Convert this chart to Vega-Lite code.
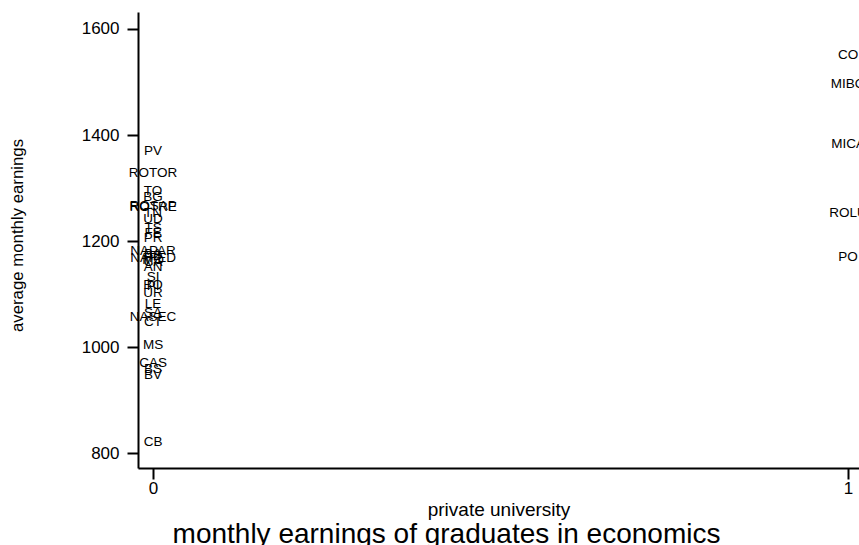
{
  "$schema": "https://vega.github.io/schema/vega-lite/v6.json",
  "autosize": "none",
  "padding": {"left": 138, "top": 12, "right": 0, "bottom": 77},
  "width": 721,
  "height": 456,
  "background": "white",
  "config": {
    "font": "Liberation Sans, Arial, sans-serif",
    "view": {"stroke": null},
    "axis": {"grid": false, "domainColor": "black", "domainWidth": 2, "tickColor": "black", "tickWidth": 2, "tickSize": 11, "labelColor": "black", "titleColor": "black", "labelFont": "Liberation Sans", "titleFont": "Liberation Sans", "titleFontWeight": "normal", "labelFontSize": 17, "titleFontSize": 17}
  },
  "title": {"text": "monthly earnings of graduates in economics", "orient": "bottom", "anchor": "middle", "frame": "group", "fontSize": 28, "fontWeight": "normal", "font": "Liberation Sans", "color": "black", "dx": -52, "offset": 2},
  "data": {"values": [
    {"univ": "PV", "private": 0, "earnings": 1370},
    {"univ": "ROTOR", "private": 0, "earnings": 1329},
    {"univ": "TO", "private": 0, "earnings": 1294},
    {"univ": "BG", "private": 0, "earnings": 1283},
    {"univ": "ROSAP", "private": 0, "earnings": 1266},
    {"univ": "ROTRE", "private": 0, "earnings": 1264},
    {"univ": "TN", "private": 0, "earnings": 1252},
    {"univ": "UD", "private": 0, "earnings": 1242},
    {"univ": "TS", "private": 0, "earnings": 1225},
    {"univ": "FE", "private": 0, "earnings": 1215},
    {"univ": "PR", "private": 0, "earnings": 1205},
    {"univ": "NAPAR", "private": 0, "earnings": 1181},
    {"univ": "BA", "private": 0, "earnings": 1176},
    {"univ": "PD", "private": 0, "earnings": 1171},
    {"univ": "NAFED", "private": 0, "earnings": 1168},
    {"univ": "MO", "private": 0, "earnings": 1165},
    {"univ": "CA", "private": 0, "earnings": 1160},
    {"univ": "AN", "private": 0, "earnings": 1151},
    {"univ": "SI", "private": 0, "earnings": 1132},
    {"univ": "BO", "private": 0, "earnings": 1118},
    {"univ": "PI", "private": 0, "earnings": 1116},
    {"univ": "UR", "private": 0, "earnings": 1102},
    {"univ": "LE", "private": 0, "earnings": 1081},
    {"univ": "SA", "private": 0, "earnings": 1064},
    {"univ": "NASEC", "private": 0, "earnings": 1057},
    {"univ": "CT", "private": 0, "earnings": 1047},
    {"univ": "MS", "private": 0, "earnings": 1004},
    {"univ": "CAS", "private": 0, "earnings": 970},
    {"univ": "BS", "private": 0, "earnings": 958},
    {"univ": "BV", "private": 0, "earnings": 947},
    {"univ": "CB", "private": 0, "earnings": 821},
    {"univ": "CO", "private": 1, "earnings": 1551},
    {"univ": "MIBO", "private": 1, "earnings": 1497},
    {"univ": "MICA", "private": 1, "earnings": 1383},
    {"univ": "ROLU", "private": 1, "earnings": 1253},
    {"univ": "PO", "private": 1, "earnings": 1170}
  ]},
  "mark": {"type": "text", "align": "center", "baseline": "middle", "fontSize": 13.5, "color": "black", "font": "Liberation Sans"},
  "encoding": {
    "x": {"field": "private", "type": "quantitative", "scale": {"domain": [-0.0216, 1.0158], "nice": false, "zero": false},
      "axis": {"values": [0, 1], "format": "d", "title": "private university", "labelPadding": 1, "titleY": 41, "titleBaseline": "middle", "titleFontSize": 19}},
    "y": {"field": "earnings", "type": "quantitative", "scale": {"domain": [772, 1632], "nice": false, "zero": false},
      "axis": {"values": [800, 1000, 1200, 1400, 1600], "format": "d", "title": "average monthly earnings", "labelPadding": 8, "titleX": -121, "titleY": 223, "titleBaseline": "middle", "titleFontSize": 16.8}},
    "text": {"field": "univ", "type": "nominal"}
  }
}
